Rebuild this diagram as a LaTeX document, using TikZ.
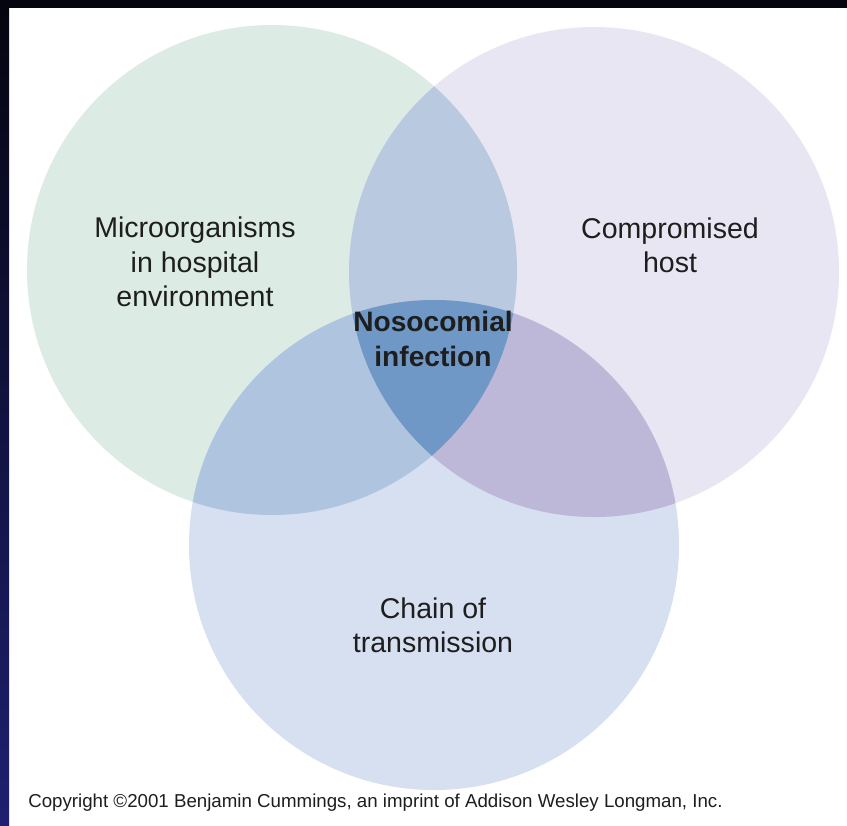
\documentclass[tikz,border=0pt]{standalone}
\usepackage{fontspec}
\setmainfont{Liberation Sans}
\usetikzlibrary{positioning}

\definecolor{microfill}{HTML}{DCEBE4}
\definecolor{hostfill}{HTML}{E8E6F2}
\definecolor{chainfill}{HTML}{D6E0F0}
\definecolor{mhfill}{HTML}{B9CAE0}
\definecolor{mcfill}{HTML}{AFC4DF}
\definecolor{hcfill}{HTML}{BEB8D8}
\definecolor{allfill}{HTML}{6F98C6}
\definecolor{framedark}{HTML}{05050F}
\definecolor{framenavy}{HTML}{1E2070}
\definecolor{labeltext}{HTML}{1E1E1E}

\begin{document}
\begin{tikzpicture}[
        x=0.025cm, y=-0.025cm,
        every node/.style={align=center, text=labeltext, font=\fontsize{20.3}{24.4}\selectfont}]

        \useasboundingbox (0,0) rectangle (847,825);
        \fill[white] (0,0) rectangle (847,825);
        \shade[top color=framedark, bottom color=framenavy] (0,0) rectangle (9,825);
        \fill[framedark] (0,0) rectangle (847,8);

        \coordinate (M) at (272,270);
        \coordinate (H) at (594,272);
        \coordinate (C) at (434,545);

        % the three sets
        \fill[microfill] (M) circle (245);
        \fill[hostfill] (H) circle (245);
        \fill[chainfill] (C) circle (245);

        % pairwise overlaps
        \begin{scope}
            \clip (M) circle (245);
            \fill[mhfill] (H) circle (245);
            \fill[mcfill] (C) circle (245);
        \end{scope}
        \begin{scope}
            \clip (H) circle (245);
            \fill[hcfill] (C) circle (245);
            \clip (C) circle (245);
            \fill[allfill] (M) circle (245);
        \end{scope}

        \node (micro) at (195,262) {Microorganisms\\in hospital\\environment};
        \node (host) at (670,245) {Compromised\\host};
        \node[font=\fontsize{20}{24.4}\selectfont\bfseries] (noso) at (433,339) {Nosocomial\\infection};
        \node (chain) at (433,625) {Chain of\\transmission};
        \node[anchor=west, font=\fontsize{13.3}{15}\selectfont, inner sep=0pt] (copy) at (28,803)
            {Copyright \textcopyright 2001 Benjamin Cummings, an imprint of Addison Wesley Longman, Inc.};

    \end{tikzpicture}
\end{document}
